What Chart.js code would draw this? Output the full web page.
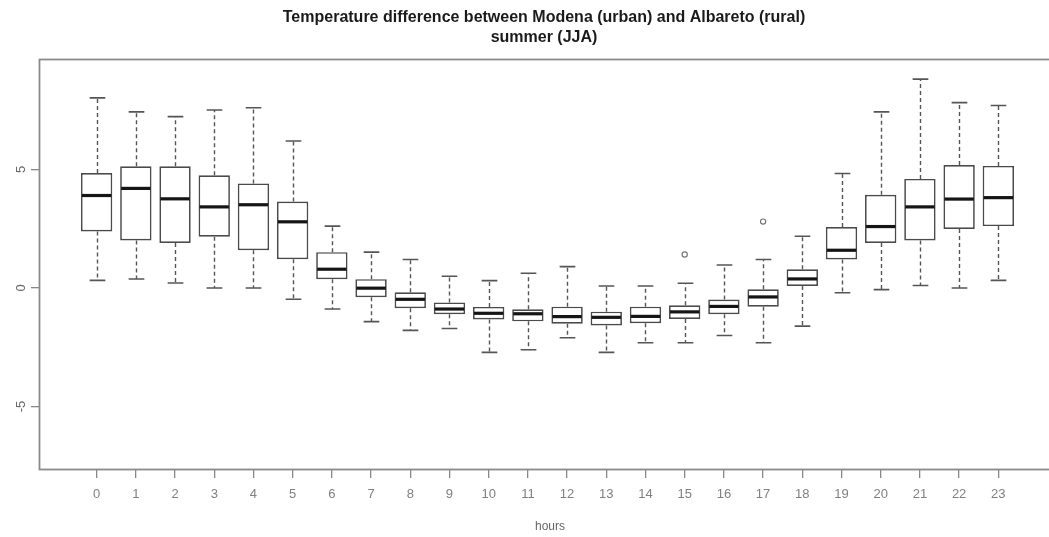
<!DOCTYPE html>
<html>
<head>
<meta charset="utf-8">
<script src="https://cdn.jsdelivr.net/npm/chart.js@4.4.1/dist/chart.umd.min.js"></script>
<style>
  html, body { margin: 0; padding: 0; background: #fff; }
  canvas { display: block; }
</style>
</head>
<body>
<canvas id="chart" width="1049" height="537"></canvas>
<script>
// hour of day (x categories / tick labels)
const hours = [0, 1, 2, 3, 4, 5, 6, 7, 8, 9, 10, 11, 12, 13, 14, 15, 16, 17, 18, 19, 20, 21, 22, 23];
// box statistics, urban minus rural temperature (°C)
const whiskerLow  = [0.32, 0.38, 0.21, 0.00, 0.00, -0.48, -0.89, -1.42, -1.79, -1.71, -2.72, -2.61, -2.10, -2.72, -2.31, -2.31, -2.01, -2.31, -1.61, -0.20, -0.07, 0.10, 0.00, 0.32];
const lowerQuart  = [2.38, 2.00, 1.90, 2.16, 1.59, 1.21, 0.37, -0.39, -0.86, -1.11, -1.33, -1.41, -1.51, -1.58, -1.49, -1.31, -1.11, -0.79, 0.08, 1.20, 1.90, 2.00, 2.49, 2.61];
const medians     = [3.90, 4.20, 3.76, 3.42, 3.51, 2.79, 0.79, -0.01, -0.48, -0.89, -1.07, -1.09, -1.21, -1.24, -1.20, -1.01, -0.78, -0.38, 0.38, 1.59, 2.59, 3.42, 3.75, 3.81];
const upperQuart  = [4.85, 5.13, 5.13, 4.75, 4.41, 3.65, 1.51, 0.37, -0.18, -0.61, -0.80, -0.90, -0.79, -1.00, -0.79, -0.73, -0.49, -0.06, 0.79, 2.57, 3.93, 4.60, 5.19, 5.15];
const whiskerHigh = [8.02, 7.43, 7.23, 7.51, 7.60, 6.20, 2.61, 1.51, 1.20, 0.49, 0.31, 0.62, 0.90, 0.08, 0.08, 0.20, 0.97, 1.20, 2.18, 4.83, 7.43, 8.81, 7.82, 7.70];
// outliers
const outlierHours  = [15, 17];
const outlierValues = [1.41, 2.80];
// y axis tick labels
const yTicks = [-5, 0, 5];

const FONT = "'Liberation Sans', Arial, sans-serif";
const BOX_WIDTH = 0.8;

const boxParts = {
  id: 'boxParts',
  beforeDatasetsDraw(chart) {
    const { ctx, chartArea, scales: { x, y } } = chart;
    ctx.save();
    // plot frame (right side lies outside the cropped picture)
    ctx.strokeStyle = '#8a8a8a';
    ctx.lineWidth = 1.8;
    ctx.strokeRect(chartArea.left + 0.5, chartArea.top + 0.5, chartArea.width + 40, chartArea.bottom - chartArea.top);

    const half = (x.getPixelForValue(1) - x.getPixelForValue(0)) * BOX_WIDTH / 2;
    hours.forEach((h, i) => {
      const cx = Math.round(x.getPixelForValue(h)) + 0.5;
      ctx.strokeStyle = '#555';
      ctx.lineWidth = 1.4;
      ctx.setLineDash([4, 3]);
      ctx.beginPath();
      ctx.moveTo(cx, y.getPixelForValue(upperQuart[i]));
      ctx.lineTo(cx, y.getPixelForValue(whiskerHigh[i]));
      ctx.moveTo(cx, y.getPixelForValue(lowerQuart[i]));
      ctx.lineTo(cx, y.getPixelForValue(whiskerLow[i]));
      ctx.stroke();
      ctx.setLineDash([]);
      ctx.lineWidth = 1.6;
      ctx.beginPath();
      ctx.moveTo(cx - half / 2, y.getPixelForValue(whiskerHigh[i]));
      ctx.lineTo(cx + half / 2, y.getPixelForValue(whiskerHigh[i]));
      ctx.moveTo(cx - half / 2, y.getPixelForValue(whiskerLow[i]));
      ctx.lineTo(cx + half / 2, y.getPixelForValue(whiskerLow[i]));
      ctx.stroke();
    });
    ctx.restore();
  },
  afterDatasetsDraw(chart) {
    const { ctx, scales: { x, y } } = chart;
    const half = (x.getPixelForValue(1) - x.getPixelForValue(0)) * BOX_WIDTH / 2;
    ctx.save();
    ctx.strokeStyle = '#151515';
    ctx.lineWidth = 3.2;
    hours.forEach((h, i) => {
      const cx = x.getPixelForValue(h);
      const my = y.getPixelForValue(medians[i]);
      ctx.beginPath();
      ctx.moveTo(cx - half + 1, my);
      ctx.lineTo(cx + half - 1, my);
      ctx.stroke();
    });
    ctx.restore();
  },
  afterDraw(chart) {
    const { ctx, scales: { y } } = chart;
    ctx.save();
    // title
    ctx.fillStyle = '#1a1a1a';
    ctx.font = 'bold 16px ' + FONT;
    ctx.textAlign = 'center';
    ctx.textBaseline = 'middle';
    ctx.fillText('Temperature difference between Modena (urban) and Albareto (rural)', 544, 18);
    ctx.fillText('summer (JJA)', 544, 38);
    // x axis title
    ctx.fillStyle = '#666';
    ctx.font = '12px ' + FONT;
    ctx.fillText('hours', 550, 527);
    // rotated y tick labels, as R draws them
    ctx.font = '13px ' + FONT;
    yTicks.forEach(v => {
      ctx.save();
      ctx.translate(21, y.getPixelForValue(v));
      ctx.rotate(-Math.PI / 2);
      ctx.fillText(String(v), 0, 0);
      ctx.restore();
    });
    ctx.restore();
  }
};

new Chart(document.getElementById('chart'), {
  type: 'bar',
  data: {
    datasets: [
      {
        type: 'bar',
        data: hours.map((h, i) => ({ x: h, y: [lowerQuart[i], upperQuart[i]] })),
        backgroundColor: '#ffffff',
        borderColor: '#4a4a4a',
        borderWidth: 1.7,
        borderSkipped: false,
        barPercentage: BOX_WIDTH,
        categoryPercentage: 1,
        grouped: false
      },
      {
        type: 'scatter',
        data: outlierHours.map((h, i) => ({ x: h, y: outlierValues[i] })),
        pointRadius: 2.6,
        pointBackgroundColor: 'rgba(255,255,255,0)',
        pointBorderColor: '#777',
        pointBorderWidth: 1.2
      }
    ]
  },
  options: {
    responsive: false,
    animation: false,
    layout: { padding: { top: 59, left: 0, right: 0, bottom: 0 } },
    plugins: {
      legend: { display: false },
      title: { display: false },
      tooltip: { enabled: false }
    },
    scales: {
      x: {
        type: 'linear',
        offset: false,
        min: -1.47,
        max: 24.16,
        afterFit: scale => { scale.height = 68; },
        afterBuildTicks: scale => { scale.ticks = hours.map(v => ({ value: v })); },
        grid: { display: true, drawOnChartArea: false, drawTicks: true, tickLength: 9, color: '#888', lineWidth: 1.3, offset: false },
        border: { display: false },
        ticks: {
          autoSkip: false,
          maxRotation: 0,
          minRotation: 0,
          padding: 9,
          color: '#808080',
          font: { family: FONT, size: 13 },
          callback: v => String(v)
        }
      },
      y: {
        min: -7.64,
        max: 9.66,
        afterFit: scale => { scale.width = 39; },
        afterBuildTicks: scale => { scale.ticks = yTicks.map(v => ({ value: v })); },
        grid: { display: true, drawOnChartArea: false, drawTicks: true, tickLength: 8, color: '#888', lineWidth: 1.3 },
        border: { display: false },
        ticks: { display: false }
      }
    }
  },
  plugins: [boxParts]
});
</script>
</body>
</html>
